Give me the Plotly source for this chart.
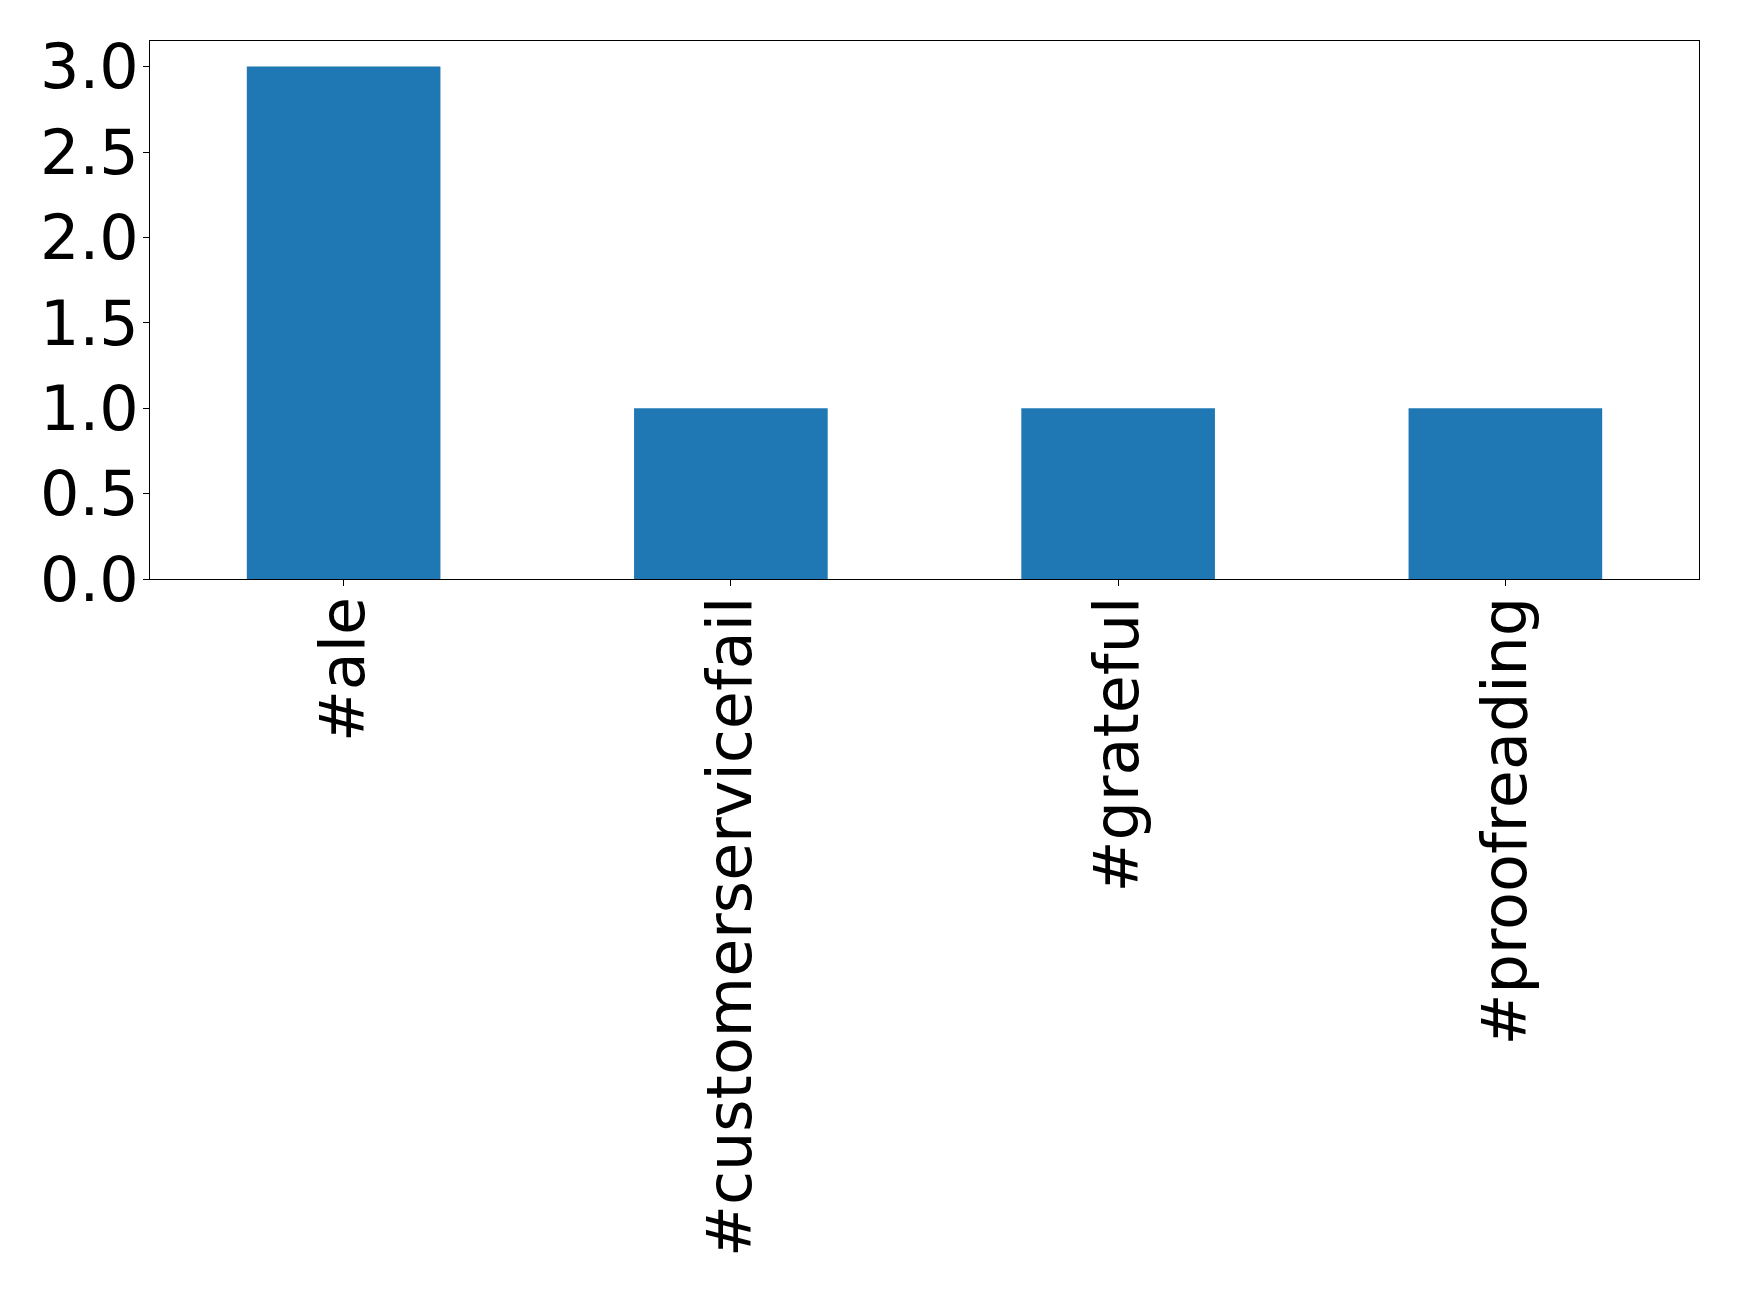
import plotly.graph_objects as go

categories = ["#ale", "#customerservicefail", "#grateful", "#proofreading"]
counts = [3, 1, 1, 1]
y_ticks = [0.0, 0.5, 1.0, 1.5, 2.0, 2.5, 3.0]
y_tick_labels = ["0.0", "0.5", "1.0", "1.5", "2.0", "2.5", "3.0"]

fig = go.Figure(
    go.Bar(x=categories, y=counts, width=0.5, marker=dict(color="#1f77b4", line=dict(width=0)))
)

font = dict(family="DejaVu Sans", size=62, color="black")

fig.update_layout(
    width=1739,
    height=1294,
    margin=dict(l=142, r=48, t=33, b=723, pad=0),
    paper_bgcolor="white",
    plot_bgcolor="white",
    showlegend=False,
    font=font,
)
fig.update_xaxes(
    type="category",
    range=[-0.5, 3.5],
    tickangle=-90,
    ticks="outside",
    ticklen=6,
    tickwidth=1,
    tickcolor="black",
    showline=True,
    linecolor="black",
    linewidth=1,
    mirror=True,
    showgrid=False,
    tickfont=font,
    ticklabelstandoff=-14,
    automargin=False,
)
fig.update_yaxes(
    range=[0, 3.15],
    tickvals=y_ticks,
    ticktext=y_tick_labels,
    ticks="outside",
    ticklen=6,
    tickwidth=1,
    tickcolor="black",
    showline=True,
    linecolor="black",
    linewidth=1,
    mirror=True,
    showgrid=False,
    zeroline=False,
    tickfont=font,
    ticklabelstandoff=-8,
    automargin=False,
)

fig.write_html("out.html")
